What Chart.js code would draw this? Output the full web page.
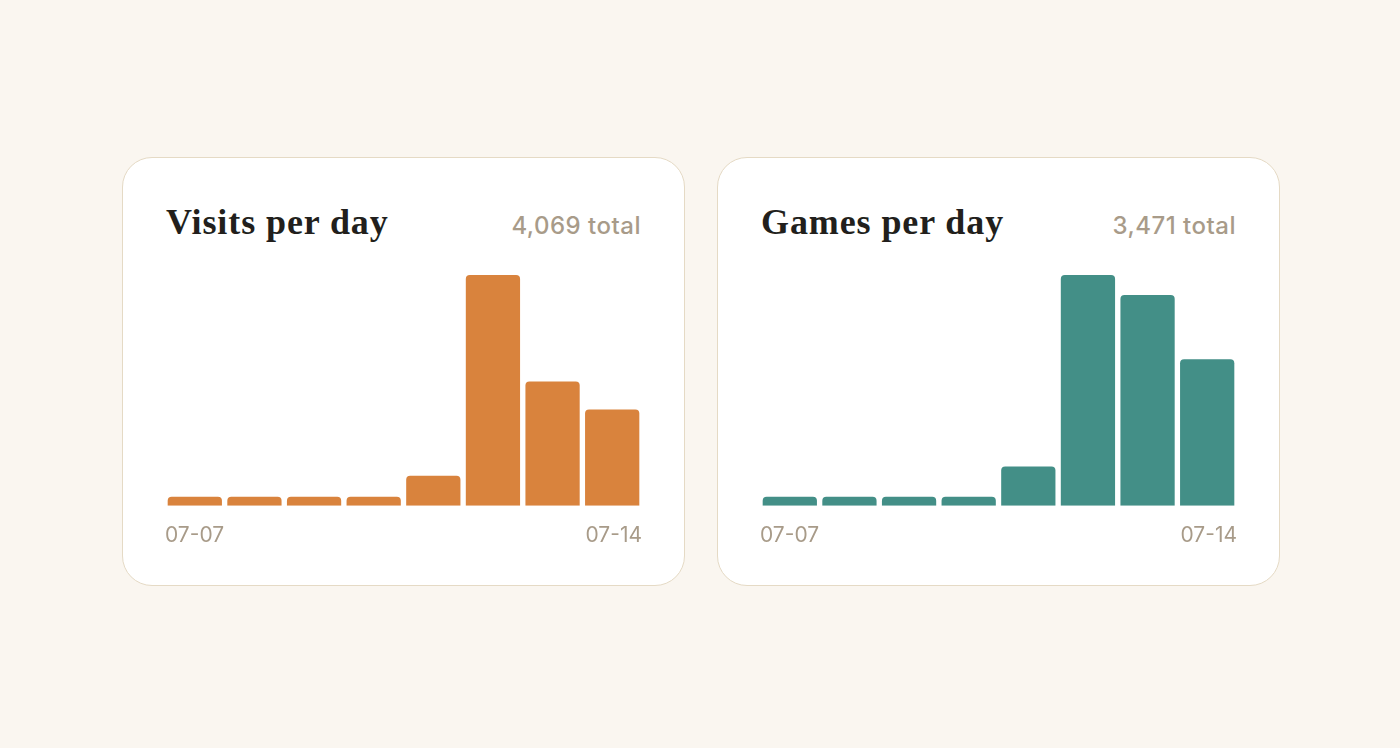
<!DOCTYPE html>
<html>
<head>
<meta charset="utf-8">
<script src="https://cdn.jsdelivr.net/npm/chart.js@4"></script>
<style>
  html, body { margin: 0; padding: 0; }
  body {
    width: 1400px; height: 748px;
    background: #faf6f0;
    position: relative;
    font-family: Inter, "Noto Sans", sans-serif;
  }
  .card {
    position: absolute;
    top: 157px;
    width: 563px; height: 429px;
    box-sizing: border-box;
    background: #fff;
    border: 1.5px solid #e5dac5;
    border-radius: 30px;
  }
  .card-title {
    position: absolute;
    left: 43px; top: 42px;
    margin: 0;
    font-family: "Liberation Serif", "DejaVu Serif", serif;
    font-weight: 700;
    font-size: 36px;
    line-height: 44px;
    letter-spacing: 0.9px;
    color: #221f1c;
  }
  .card-total {
    position: absolute;
    right: 43px; top: 53px;
    font-size: 24px;
    font-weight: 500;
    letter-spacing: 0.5px;
    line-height: 30px;
    color: #a89b89;
  }
  .chart-box {
    position: absolute;
    left: 42px; right: 42px;
    top: 117px; height: 273px;
  }
</style>
</head>
<body>

<div class="card" style="left:122px">
  <h2 class="card-title">Visits per day</h2>
  <div class="card-total">4,069 total</div>
  <div class="chart-box"><canvas id="visits-chart"></canvas></div>
</div>

<div class="card" style="left:717px">
  <h2 class="card-title">Games per day</h2>
  <div class="card-total">3,471 total</div>
  <div class="chart-box"><canvas id="games-chart"></canvas></div>
</div>

<script>
const days = ['07-07', '07-08', '07-09', '07-10', '07-11', '07-12', '07-13', '07-14']
const visits = [0, 0, 0, 0, 254, 1950, 1051, 814]
const games = [0, 0, 0, 0, 217, 1277, 1166, 811]

function barChart(id, values, color) {
    var ctx = document.getElementById(id).getContext('2d');
    return new Chart(ctx, {
        type: 'bar',
        data: {
            labels: days,
            datasets: [{
                data: values,
                backgroundColor: color,
                borderWidth: 0,
                borderRadius: { topLeft: 4, topRight: 4 },
                borderSkipped: 'bottom',
                minBarLength: 9,
                barPercentage: 0.91,
                categoryPercentage: 1,
            }],
        },
        options: {
            responsive: true,
            maintainAspectRatio: false,
            animation: false,
            layout: { padding: 0 },
            plugins: {
                legend: { display: false },
                tooltip: { enabled: false },
            },
            scales: {
                x: { display: false, offset: true },
                // second axis only for the end labels, flush with the plot edges
                labelsAxis: {
                    type: 'category',
                    position: 'bottom',
                    offset: false,
                    grid: { display: false, tickLength: 17 },
                    border: { display: false },
                    ticks: {
                        autoSkip: false,
                        maxRotation: 0,
                        align: 'inner',
                        padding: 0,
                        color: '#a89b89',
                        font: { family: 'Inter', size: 21 },
                        callback: function (val, i) {
                            return (i === 0 || i === days.length - 1) ? days[i] : ''
                        },
                    },
                },
                y: {
                    display: false,
                    beginAtZero: true,
                    max: Math.max(...values),
                },
            },
        },
    });
}

barChart('visits-chart', visits, '#d9833d')
barChart('games-chart', games, '#438f87')
</script>
</body>
</html>
